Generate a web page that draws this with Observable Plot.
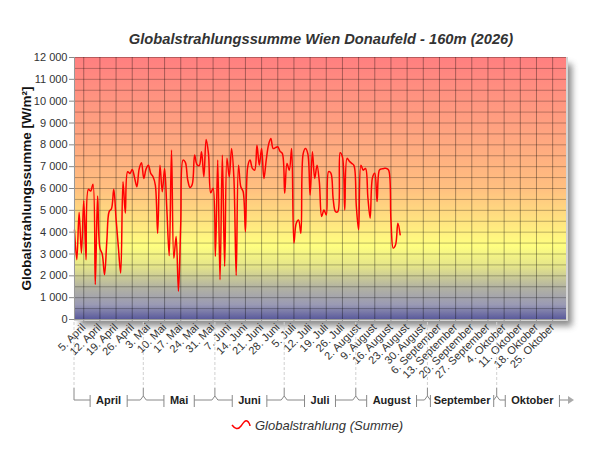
<!DOCTYPE html>
<html>
<head>
<meta charset="utf-8">
<script src="https://cdn.jsdelivr.net/npm/d3@7"></script>
<script src="https://cdn.jsdelivr.net/npm/@observablehq/plot@0.6"></script>
<style>
  body { margin: 0; background: #fff; font-family: "Liberation Sans", Arial, sans-serif; }
  #wrap { width: 600px; height: 450px; position: relative; overflow: hidden; background: #fff; }
  #title { height: 50px; box-sizing: border-box; padding-top: 31px; padding-left: 42px; text-align: center;
           font: italic bold 14.7px "Liberation Sans", Arial, sans-serif; color: #333; line-height: 16px; }
  #chart { height: 360px; }
  #legend { position: absolute; left: 231px; top: 416px; height: 18px; display: flex; align-items: center;
            font: italic 13px "Liberation Sans", Arial, sans-serif; color: #333; }
  #legend svg { margin-right: 4px; }
  #chart svg [aria-label="y-axis label"] text, #chart svg [aria-label="y-axis label"] { font-weight: bold; font-size: 13.5px; fill: #111; }
</style>
</head>
<body>
<div id="wrap">
  <div id="title">Globalstrahlungssumme Wien Donaufeld - 160m (2026)</div>
  <div id="chart"></div>
  <div id="legend">
    <svg width="20" height="12"><path d="M1,6 C4,10 7,11 10,7 S14,1 16,2 S19,6 19,7" fill="none" stroke="#ff0000" stroke-width="1.5"/></svg>
    <span>Globalstrahlung (Summe)</span>
  </div>
</div>
<script>
// ---------- data ----------
const firstDay = "2026-04-01";           // date of the first value
const domainStart = "2026-04-01";
const domainEnd = "2026-10-31";
// daily global radiation sum [W/m²], from 1 April
const values = [
  4100, 2740, 4900, 3040, 5440, 2740, 5960, 5880, 6200, 1600,
  5660, 3270, 3000, 2050, 3600, 4940, 5070, 5960, 4600, 3300,
  2130, 6310, 4870, 6770, 6690, 6870, 6500, 6080, 6900, 7180,
  6460, 6900, 7070, 6690, 6540, 6160, 3950, 7070, 5850, 6920,
  5000, 2920, 7760, 2810, 3800, 1290, 4400, 7300, 7200, 6400,
  6050, 6200, 7530, 7100, 7050, 7680, 6540, 8240, 7600, 5800,
  6010, 2890, 7300, 1820, 7530, 2430, 7380, 6540, 7830, 6500,
  2020, 7070, 6080, 5860, 4030, 7000, 7300, 6920, 6840, 7980,
  7070, 7830, 6460, 7300, 8000, 8290, 7830, 7870, 7910, 7700,
  7600, 5780, 7150, 6840, 7830, 3500, 4410, 4560, 3950, 7600,
  7830, 7600, 5700, 7680, 6460, 7070, 6300, 4720, 5020, 4790,
  6770, 6700, 5500, 4940, 4940, 7640, 7450, 5020, 7380, 7250,
  7150, 7050, 5200, 4110, 7070, 6840, 6920, 5600, 4640, 6500,
  6700, 5400, 6840, 6900, 6920, 6920, 6840, 4560, 3270, 3420,
  4410, 3880
];
const monthNames = ["Januar","Februar","März","April","Mai","Juni","Juli","August","September","Oktober","November","Dezember"];
const bandMonths = ["April","Mai","Juni","Juli","August","September","Oktober"];
const monthStarts = ["2026-04-01","2026-05-01","2026-06-01","2026-07-01","2026-08-01","2026-09-01","2026-10-01","2026-11-01"];
const yTicks = d3.range(0, 12001, 1000);
const yGrid = d3.range(0, 12001, 500);
const yDomain = [0, 12000];

// ---------- derived ----------
const t0 = new Date(firstDay + "T00:00:00Z");
const series = values.map((v, i) => ({date: d3.utcDay.offset(t0, i), value: v}));
const xDomain = [new Date(domainStart + "T00:00:00Z"), new Date(domainEnd + "T00:00:00Z")];
const weekTicks = d3.utcSunday.range(xDomain[0], xDomain[1]);
const mStarts = monthStarts.map(s => new Date(s + "T00:00:00Z"));
const fmtX = d => `${d.getUTCDate()}. ${monthNames[d.getUTCMonth()]}`;
const fmtY = d => d3.format(",")(d).replace(/,/g, " ");

// background: gradient wall + drop shadow
function backdrop(index, scales, vals, dims) {
  const x0 = scales.x(xDomain[0]), x1 = scales.x(xDomain[1]);
  const yT = scales.y(yDomain[1]), yB = scales.y(yDomain[0]);
  const g = d3.create("svg:g");
  const defs = g.append("defs");
  const grad = defs.append("linearGradient").attr("id", "wallGrad")
    .attr("x1", 0).attr("y1", 0).attr("x2", 0).attr("y2", 1);
  [[0, "#ff7f80"], [0.25, "#ff9f80"], [0.5, "#ffbf80"], [0.72, "#ffff80"],
   [0.80, "#e4e48a"], [0.88, "#b2b2a2"], [0.945, "#9a9ab4"], [1, "#5a5a9c"]]
    .forEach(([o, c]) => grad.append("stop").attr("offset", o).attr("stop-color", c));
  const f = defs.append("filter").attr("id", "shadowBlur").attr("x", "-10%").attr("y", "-10%").attr("width", "120%").attr("height", "120%");
  f.append("feGaussianBlur").attr("stdDeviation", 3);
  g.append("rect").attr("x", x0 + 6).attr("y", yT + 7).attr("width", x1 - x0).attr("height", yB - yT)
    .attr("fill", "#666").attr("opacity", 0.75).attr("filter", "url(#shadowBlur)");
  g.append("rect").attr("x", x0).attr("y", yT).attr("width", x1 - x0 + 2).attr("height", yB - yT + 2)
    .attr("fill", "#d4d4d4");
  g.append("rect").attr("x", x0).attr("y", yT).attr("width", x1 - x0).attr("height", yB - yT)
    .attr("fill", "url(#wallGrad)");
  return g.node();
}

// month band below the axis
const measureCtx = document.createElement("canvas").getContext("2d");
function monthBand(index, scales, vals, dims) {
  const x = scales.x;
  const yB = scales.y(yDomain[0]);
  const g = d3.create("svg:g").attr("fill", "none");
  const yDashTop = yB + 3, yJoin = yB + 69, yLine = yB + 81, tickTop = yB + 76, tickBot = yB + 88;
  const col = "#888";
  measureCtx.font = "bold 11px 'Liberation Sans', Arial, sans-serif";
  mStarts.slice(0, -1).forEach(d => {
    g.append("line").attr("x1", x(d)).attr("x2", x(d)).attr("y1", yDashTop).attr("y2", yJoin)
      .attr("stroke", "#d0d0d0").attr("stroke-dasharray", "3,2");
  });
  const xEnd = x(xDomain[1]);
  bandMonths.forEach((name, i) => {
    const a = x(mStarts[i]);
    const b = Math.min(x(mStarts[i + 1]), xEnd + 2);
    const cx = (a + b) / 2;
    const w = measureCtx.measureText(name).width;
    const tl = Math.max(a + 3, cx - w / 2 - 6);
    const tr = Math.min(b - 3, cx + w / 2 + 6);
    if (i === 0) {
      g.append("path").attr("d", `M${a},${yJoin}V${yLine}H${tl}`).attr("stroke", col);
    } else {
      g.append("path").attr("d", `M${a},${yJoin}V${yLine - 4}L${a + 3},${yLine}H${tl}`).attr("stroke", col);
    }
    g.append("line").attr("x1", tl).attr("x2", tl).attr("y1", tickTop).attr("y2", tickBot).attr("stroke", col);
    g.append("line").attr("x1", tr).attr("x2", tr).attr("y1", tickTop).attr("y2", tickBot).attr("stroke", col);
    if (i < bandMonths.length - 1) {
      g.append("path").attr("d", `M${tr},${yLine}H${b - 3}L${b},${yLine - 4}`).attr("stroke", col);
    } else {
      g.append("path").attr("d", `M${tr},${yLine}H${b}`).attr("stroke", col);
      g.append("path").attr("d", `M${b},${yLine - 4}L${b + 6},${yLine}L${b},${yLine + 4}Z`).attr("fill", "#aaa");
    }
    g.append("text").attr("x", cx).attr("y", yLine).attr("dy", "0.36em").attr("text-anchor", "middle")
      .attr("fill", "#222").attr("font-weight", "bold").attr("font-size", 11).text(name);
  });
  return g.node();
}

const chart = Plot.plot({
  width: 600,
  height: 360,
  marginTop: 7,
  marginBottom: 91,
  marginLeft: 74,
  marginRight: 34,
  style: {fontSize: "11px", fontFamily: "'Liberation Sans', Arial, sans-serif", color: "#333", background: "transparent", overflow: "visible"},
  x: {type: "utc", domain: xDomain},
  y: {domain: yDomain},
  marks: [
    backdrop,
    Plot.ruleY(yGrid, {stroke: "#000", strokeOpacity: 0.28}),
    Plot.ruleX(weekTicks, {stroke: "#000", strokeOpacity: 0.34}),
    Plot.line(series, {x: "date", y: "value", stroke: "#ff0000", strokeWidth: 1.5, curve: "catmull-rom"}),
    Plot.axisY({ticks: yTicks, tickFormat: fmtY, tickSize: 5, tickPadding: 2, stroke: "#888",
                label: "Globalstrahlungssumme [W/m²]", labelAnchor: "center", labelOffset: 53, labelArrow: "none"}),
    Plot.axisX({ticks: weekTicks, tickFormat: fmtX, tickRotate: -45, tickSize: 4, tickPadding: 2, stroke: "#999", label: null}),
    Plot.ruleX([xDomain[0]], {stroke: "#999"}),
    monthBand
  ]
});
document.getElementById("chart").appendChild(chart);
</script>
</body>
</html>
